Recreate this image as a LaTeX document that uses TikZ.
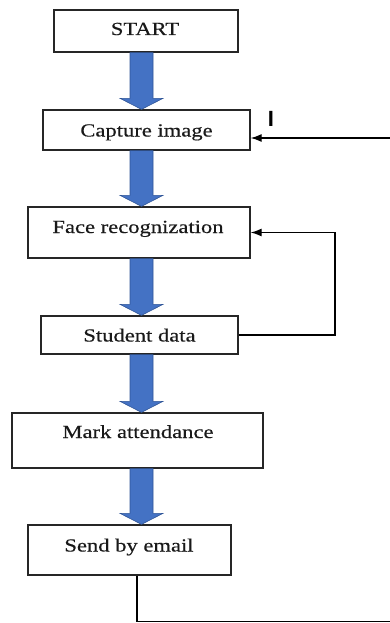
\documentclass[tikz,border=0pt]{standalone}
\usepackage{fontspec}
\setmainfont[FakeStretch=1.22,FakeBold=0.4]{Liberation Serif}
\newfontfamily\labfont{Liberation Sans}
\usetikzlibrary{arrows.meta,calc}
\definecolor{arblue}{HTML}{4472C4}
\definecolor{aredge}{HTML}{2F5597}
\tikzset{
  box/.style={draw=black!85,line width=1.3pt,rectangle,inner sep=0pt},
  txt/.style={anchor=base,inner sep=0pt,text=black!90,font=\fontsize{18.5}{20}\selectfont},
  blockar/.style={fill=arblue,draw=aredge,line width=0.6pt},
  fb/.style={draw=black,line width=1.3pt},
  fbar/.style={fb,-{Latex[length=11pt,width=8pt]}}
}
\newcommand\blockarrow[2]{%
  \path[blockar] let \p1=(#1.south), \p2=(#2.north) in
    (130,\y1) -- (153,\y1) -- (153,{\y2+11pt}) -- (163,{\y2+11pt}) -- (141.5,\y2)
    -- (120,{\y2+11pt}) -- (130,{\y2+11pt}) -- cycle;}
\begin{document}
\begin{tikzpicture}[x=1pt,y=-1pt]
\useasboundingbox (0,0) rectangle (390,623);
% boxes
\node[box,minimum width=184,minimum height=42] (start) at (146,31) {};
\node[box,minimum width=207,minimum height=40] (cap) at (146.5,130) {};
\node[box,minimum width=222,minimum height=51] (face) at (139,232.5) {};
\node[box,minimum width=197,minimum height=38] (stud) at (139.5,335) {};
\node[box,minimum width=251,minimum height=55] (mark) at (137.5,440.5) {};
\node[box,minimum width=203,minimum height=50] (send) at (129.5,550) {};
% texts
\node[txt] (startT) at (145,35) {START};
\node[txt] (capT) at (146.5,136.5) {Capture image};
\node[txt] (faceT) at (138,233) {Face recognization};
\node[txt] (studT) at (139.5,341.5) {Student data};
\node[txt] (markT) at (138,438) {Mark attendance};
\node[txt] (sendT) at (129,551.5) {Send by email};
% label
\node[inner sep=0pt,font=\labfont\bfseries\fontsize{22}{24}\selectfont] (lblI) at (271,118.5) {I};
% block arrows
\blockarrow{start}{cap}
\blockarrow{cap}{face}
\blockarrow{face}{stud}
\blockarrow{stud}{mark}
\blockarrow{mark}{send}
% feedback loops
\coordinate (loopR) at (335,0);
\draw[fbar] (stud.east) -- (stud.east -| loopR) -- (face.east -| loopR) -- (face.east);
\coordinate (inR) at (390,138);
\draw[fbar] (inR) -- (cap.east |- inR);
\coordinate (sendX) at (137,0);
\coordinate (botR) at (390,621.5);
\draw[fb] (sendX |- send.south) -- (sendX |- botR) -- (botR);
\end{tikzpicture}
\end{document}
